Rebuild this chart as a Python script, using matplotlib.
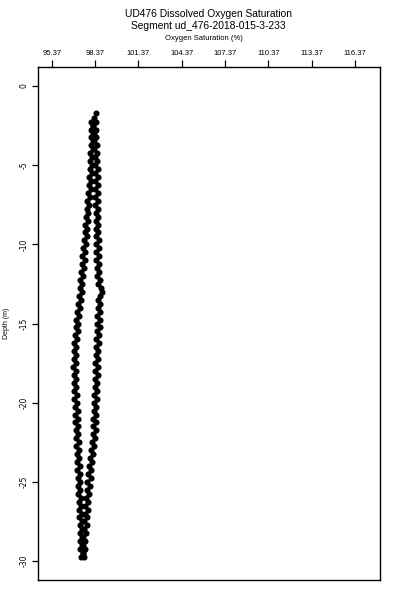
import matplotlib

matplotlib.use("Agg")
import matplotlib.pyplot as plt

plt.rcParams["font.family"] = ["Liberation Sans", "DejaVu Sans"]
plt.rcParams["axes.unicode_minus"] = False

# descending branch (left trace)
depth_down = [
    -2.00, -2.25, -2.50, -2.75, -3.00, -3.25, -3.50, -3.75, -4.00, -4.25,
    -4.50, -4.75, -5.00, -5.25, -5.50, -5.75, -6.00, -6.25, -6.50, -6.75,
    -7.00, -7.25, -7.50, -7.75, -8.00, -8.25, -8.50, -8.75, -9.00, -9.25,
    -9.50, -9.75, -10.00, -10.25, -10.50, -10.75, -11.00, -11.25, -11.50, -11.75,
    -12.00, -12.25, -12.50, -12.75, -13.00, -13.25, -13.50, -13.75, -14.00, -14.25,
    -14.50, -14.75, -15.00, -15.25, -15.50, -15.75, -16.00, -16.25, -16.50, -16.75,
    -17.00, -17.25, -17.50, -17.75, -18.00, -18.25, -18.50, -18.75, -19.00, -19.25,
    -19.50, -19.75, -20.00, -20.25, -20.50, -20.75, -21.00, -21.25, -21.50, -21.75,
    -22.00, -22.25, -22.50, -22.75, -23.00, -23.25, -23.50, -23.75, -24.00, -24.25,
    -24.50, -24.75, -25.00, -25.25, -25.50, -25.75, -26.00, -26.25, -26.50, -26.75,
    -27.00, -27.25, -27.50, -27.75, -28.00, -28.25, -28.50, -28.75, -29.00, -29.25,
    -29.50, -29.75,
]
oxy_down = [
    98.28, 98.12, 98.26, 98.10, 98.24, 98.08, 98.22, 98.06, 98.20, 98.04,
    98.18, 98.02, 98.16, 98.00, 98.14, 97.98, 98.12, 97.96, 98.06, 97.90,
    98.02, 97.84, 97.96, 97.78, 97.90, 97.72, 97.86, 97.68, 97.82, 97.64,
    97.78, 97.60, 97.74, 97.54, 97.68, 97.50, 97.64, 97.44, 97.58, 97.40,
    97.54, 97.36, 97.50, 97.32, 97.46, 97.28, 97.40, 97.20, 97.34, 97.14,
    97.28, 97.08, 97.22, 97.02, 97.16, 96.98, 97.12, 96.94, 97.08, 96.90,
    97.04, 96.88, 97.02, 96.86, 97.02, 96.88, 97.06, 96.90, 97.08, 96.92,
    97.10, 96.94, 97.14, 96.96, 97.16, 96.98, 97.18, 97.00, 97.20, 97.04,
    97.22, 97.06, 97.24, 97.08, 97.26, 97.10, 97.28, 97.12, 97.30, 97.14,
    97.32, 97.16, 97.34, 97.18, 97.36, 97.22, 97.40, 97.24, 97.42, 97.26,
    97.44, 97.28, 97.46, 97.30, 97.48, 97.32, 97.48, 97.34, 97.50, 97.36,
    97.52, 97.42,
]

# ascending branch (right trace)
depth_up = [
    -1.70, -2.25, -2.50, -2.75, -3.00, -3.25, -3.50, -3.75, -4.00, -4.25,
    -4.50, -4.75, -5.00, -5.25, -5.50, -5.75, -6.00, -6.25, -6.50, -6.75,
    -7.00, -7.25, -7.50, -7.75, -8.00, -8.25, -8.50, -8.75, -9.00, -9.25,
    -9.50, -9.75, -10.00, -10.25, -10.50, -10.75, -11.00, -11.25, -11.50, -11.75,
    -12.00, -12.25, -12.50, -12.75, -13.00, -13.25, -13.50, -13.75, -14.00, -14.25,
    -14.50, -14.75, -15.00, -15.25, -15.50, -15.75, -16.00, -16.25, -16.50, -16.75,
    -17.00, -17.25, -17.50, -17.75, -18.00, -18.25, -18.50, -18.75, -19.00, -19.25,
    -19.50, -19.75, -20.00, -20.25, -20.50, -20.75, -21.00, -21.25, -21.50, -21.75,
    -22.00, -22.25, -22.50, -22.75, -23.00, -23.25, -23.50, -23.75, -24.00, -24.25,
    -24.50, -24.75, -25.00, -25.25, -25.50, -25.75, -26.00, -26.25, -26.50, -26.75,
    -27.00, -27.25, -27.50, -27.75, -28.00, -28.25, -28.50, -28.75, -29.00, -29.25,
    -29.50, -29.75,
]
oxy_up = [
    98.44, 98.42, 98.26, 98.44, 98.28, 98.46, 98.30, 98.48, 98.32, 98.50,
    98.34, 98.52, 98.36, 98.54, 98.38, 98.54, 98.38, 98.56, 98.38, 98.56,
    98.40, 98.58, 98.40, 98.58, 98.42, 98.60, 98.42, 98.60, 98.42, 98.60,
    98.44, 98.62, 98.44, 98.62, 98.46, 98.64, 98.46, 98.64, 98.48, 98.66,
    98.50, 98.68, 98.60, 98.80, 98.86, 98.72, 98.56, 98.74, 98.54, 98.72,
    98.52, 98.70, 98.50, 98.68, 98.48, 98.66, 98.46, 98.64, 98.44, 98.60,
    98.42, 98.58, 98.40, 98.56, 98.38, 98.54, 98.36, 98.52, 98.34, 98.50,
    98.32, 98.48, 98.30, 98.46, 98.28, 98.44, 98.26, 98.42, 98.24, 98.44,
    98.20, 98.36, 98.14, 98.30, 98.08, 98.24, 98.02, 98.18, 97.96, 98.12,
    97.90, 98.06, 97.84, 98.00, 97.78, 97.94, 97.74, 97.90, 97.70, 97.86,
    97.66, 97.82, 97.62, 97.78, 97.58, 97.74, 97.56, 97.70, 97.54, 97.66,
    97.52, 97.62,
]

x_ticks = [95.37, 98.37, 101.37, 104.37, 107.37, 110.37, 113.37, 116.37]
y_ticks = [0, -5, -10, -15, -20, -25, -30]

fig = plt.figure(figsize=(4, 6), dpi=100)
ax = fig.add_axes([0.095, 0.0333, 0.855, 0.855])

ax.plot(oxy_down, depth_down, "o", color="black", markersize=4.4, markeredgewidth=0)
ax.plot(oxy_up, depth_up, "o", color="black", markersize=4.4, markeredgewidth=0)

ax.set_xlim(94.42, 118.1)
ax.set_ylim(-31.2, 1.2)

ax.xaxis.tick_top()
ax.set_xticks(x_ticks)
ax.set_xticklabels([f"{v:.2f}" for v in x_ticks])
ax.set_yticks(y_ticks)
ax.set_yticklabels([str(v) for v in y_ticks], rotation=90, va="center",
                   family="DejaVu Sans")
ax.tick_params(axis="x", length=5, width=0.9, pad=2, labelsize=5.5)
ax.tick_params(axis="y", length=4, width=0.9, pad=3, labelsize=5.5)
for s in ax.spines.values():
    s.set_linewidth(1.0)

fig.text(0.522, 1 - 14 / 600, "UD476 Dissolved Oxygen Saturation", ha="center", va="center", fontsize=7.4)
fig.text(0.522, 1 - 26 / 600, "Segment ud_476-2018-015-3-233", ha="center", va="center", fontsize=7.4)
fig.text(0.51, 1 - 39 / 600, "Oxygen Saturation (%)", ha="center", va="center", fontsize=5.5)
fig.text(0.016, 1 - 323 / 600, "Depth (m)", rotation=90, ha="center", va="center", fontsize=5)

fig.savefig("out.png", dpi=100, facecolor="white")
